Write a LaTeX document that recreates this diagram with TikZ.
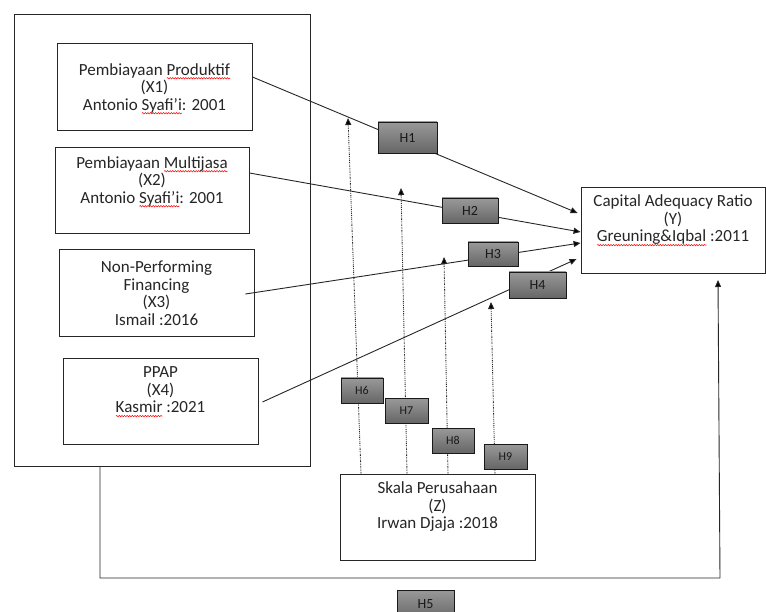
\documentclass[tikz,border=0pt]{standalone}
\usepackage{fontspec}
\setmainfont{Carlito}
\usetikzlibrary{arrows.meta,decorations.pathmorphing}
\newsavebox\wavebox
\newlength\wavelen
\newcommand\rwave[1]{\sbox\wavebox{#1}\setlength\wavelen{\wd\wavebox}%
  \rlap{\smash{\tikz[baseline=0pt]\draw[red,line width=0.5pt,decorate,decoration={snake,amplitude=0.7pt,segment length=2.6pt}] (0pt,-3.2pt) -- (\wavelen,-3.2pt);}}\usebox\wavebox}
\tikzset{
  box/.style={draw=black!85, line width=0.9pt, fill=white, inner sep=0pt},
  txt/.style={align=center, text=black!85, inner sep=0pt, font=\fontsize{17}{17.5}\selectfont},
  hbox/.style={draw=black!90, line width=0.9pt, top color=black!40, bottom color=black!60, inner sep=0pt, text=black!90},
  hbig/.style={hbox, font=\fontsize{14}{14}\selectfont},
  hsmall/.style={hbox, font=\fontsize{12}{12}\selectfont},
  conn/.style={draw=black!85, line width=0.9pt, -{Triangle[length=7pt,width=6pt]}},
  dotconn/.style={draw=black!85, line width=0.9pt, dash pattern=on 1.5pt off 1pt on 0.7pt off 1pt on 0.7pt off 1pt, -{Triangle[length=7pt,width=6pt]}}
}
\begin{document}
\begin{tikzpicture}[x=1pt,y=-1pt]
\useasboundingbox (0,0) rectangle (766,612);
% boxes
\node[box, minimum width=296, minimum height=452] (outer) at (162,240) {};
\node[box, minimum width=195, minimum height=87] (x1) at (154.5,86.5) {};
\node[box, minimum width=194, minimum height=86] (x2) at (152,190) {};
\node[box, minimum width=195, minimum height=87] (x3) at (156.5,292.5) {};
\node[box, minimum width=195, minimum height=86] (x4) at (160.5,401) {};
\node[box, minimum width=184, minimum height=86] (y) at (673,230) {};
\node[box, minimum width=195, minimum height=86] (z) at (437.5,517) {};
% texts
\node[txt] (tx1) at (154.5,88) {Pembiayaan \rwave{Produktif}\\(X1)\\Antonio \rwave{Syafi’i}: 2001};
\node[txt] (tx2) at (152,181) {Pembiayaan \rwave{Multijasa}\\(X2)\\Antonio \rwave{Syafi’i}: 2001};
\node[txt] (tx3) at (156.5,293) {Non-Performing\\Financing\\(X3)\\Ismail :2016};
\node[txt] (tx4) at (160.5,390) {PPAP\\(X4)\\\rwave{Kasmir} :2021};
\node[txt] (ty) at (673,220) {Capital Adequacy Ratio\\(Y)\\\rwave{Greuning\&Iqbal} :2011};
\node[txt] (tz) at (437.5,507) {Skala Perusahaan\\(Z)\\Irwan Djaja :2018};
% X -> Y connectors
\draw[conn] ([yshift=9.5pt]x1.east) -- ([xshift=-3pt,yshift=17pt]y.west);
\draw[conn] ([yshift=17pt]x2.east) -- ([yshift=-2pt]y.west);
\draw[conn] ([xshift=-9pt,yshift=-1.5pt]x3.east) -- ([yshift=-13pt]y.west);
\draw[conn] ([xshift=4pt,yshift=-1pt]x4.east) -- ([xshift=-4pt,yshift=-29pt]y.west);
% moderation (dotted) connectors
\coordinate (m1) at (348,118);
\coordinate (m2) at (401,188);
\coordinate (m3) at (444,257);
\coordinate (m4) at (491,302);
\draw[dotconn] ([xshift=-76.5pt]z.north) -- (m1);
\draw[dotconn] ([xshift=-30.5pt]z.north) -- (m2);
\draw[dotconn] ([xshift=10.5pt]z.north) -- (m3);
\draw[dotconn] ([xshift=57.5pt]z.north) -- (m4);
% H5 path
\coordinate (c5) at (720,578);
\coordinate (t5) at (718,280);
\draw[conn] ([xshift=-62pt]outer.south) |- (c5) -- (t5);
% hypothesis labels
\node[hbig, minimum width=59, minimum height=31] (h1) at (407.5,137.5) {H1};
\node[hbig, minimum width=56, minimum height=25] (h2) at (470,210.5) {H2};
\node[hbig, minimum width=50, minimum height=24] (h3) at (493,254) {H3};
\node[hbig, minimum width=57, minimum height=26] (h4) at (537.5,285) {H4};
\node[hsmall, minimum width=42, minimum height=25] (h6) at (362,390.5) {H6};
\node[hsmall, minimum width=43, minimum height=25] (h7) at (406.5,410.5) {H7};
\node[hsmall, minimum width=42, minimum height=25] (h8) at (453,440.5) {H8};
\node[hsmall, minimum width=43, minimum height=25] (h9) at (505.5,456.5) {H9};
\node[hbig, minimum width=57, minimum height=30] (h5) at (425.5,605) {\raisebox{2pt}{H5}};
\end{tikzpicture}
\end{document}
